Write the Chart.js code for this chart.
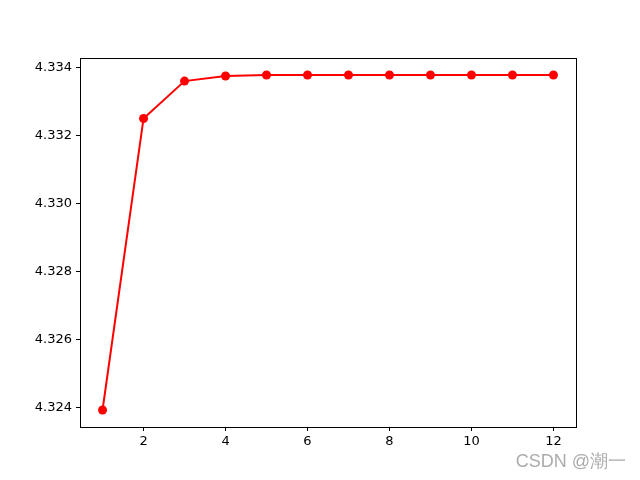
<!DOCTYPE html>
<html>
<head>
<meta charset="utf-8">
<script src="https://cdn.jsdelivr.net/npm/chart.js@4"></script>
<style>
  body { margin: 0; background: #fff; }
  #wrap { width: 640px; height: 480px; }
</style>
</head>
<body>
<div id="wrap"><canvas id="lineCanvas" width="640" height="480"></canvas></div>
<script>
const iterations = [1, 2, 3, 4, 5, 6, 7, 8, 9, 10, 11, 12];
const values = [4.32392, 4.33250, 4.33360, 4.33375, 4.33378, 4.33378, 4.33378, 4.33378, 4.33378, 4.33378, 4.33378, 4.33378];
const xTicks = [2, 4, 6, 8, 10, 12];
const yTicks = [4.324, 4.326, 4.328, 4.330, 4.332, 4.334];

const boxPlugin = {
    id: "box",
    afterDraw(chart) {
        const ctx = chart.ctx;
        const a = chart.chartArea;
        ctx.save();
        ctx.strokeStyle = "#000";
        ctx.lineWidth = 1;
        ctx.strokeRect(Math.round(a.left) + 0.5, Math.round(a.top) + 0.5, Math.round(a.right - a.left), Math.round(a.bottom - a.top));
        ctx.font = "18px 'Liberation Sans', sans-serif";
        ctx.fillStyle = "rgba(150,150,150,0.8)";
        ctx.textAlign = "right";
        ctx.textBaseline = "middle";
        ctx.fillText("CSDN @潮一", 626, 462);
        ctx.restore();
    }
};

const lineCanvas = document.getElementById("lineCanvas");
const lineChart = new Chart(lineCanvas, {
    type: "line",
    data: {
        labels: iterations,
        datasets: [{
            data: iterations.map((x, i) => ({ x: x, y: values[i] })),
            borderColor: "#ff0000",
            backgroundColor: "#ff0000",
            borderWidth: 2,
            pointRadius: 4.5,
            pointHoverRadius: 4.5,
            pointBorderWidth: 0,
            tension: 0
        }]
    },
    options: {
        responsive: false,
        animation: false,
        layout: { padding: { left: 0, top: 58, right: 64, bottom: 0 } },
        plugins: { legend: { display: false }, tooltip: { enabled: false } },
        scales: {
            x: {
                type: "linear",
                min: 0.45,
                max: 12.55,
                afterBuildTicks: (s) => { s.ticks = xTicks.map(v => ({ value: v })); },
                afterFit: (s) => { s.height = 53; },
                grid: { drawOnChartArea: false, drawTicks: true, tickLength: 4, color: "#000" },
                border: { color: "#000", width: 1 },
                ticks: {
                    color: "#000",
                    padding: 3,
                    maxRotation: 0,
                    font: { family: "'DejaVu Sans'", size: 13 }
                }
            },
            y: {
                min: 4.32342,
                max: 4.33428,
                afterBuildTicks: (s) => { s.ticks = yTicks.map(v => ({ value: v })); },
                afterFit: (s) => { s.width = 80; },
                grid: { drawOnChartArea: false, drawTicks: true, tickLength: 4, color: "#000" },
                border: { color: "#000", width: 1 },
                ticks: {
                    color: "#000",
                    padding: 4,
                    font: { family: "'DejaVu Sans'", size: 13 },
                    callback: (v) => v.toFixed(3)
                }
            }
        }
    },
    plugins: [boxPlugin]
});
</script>
</body>
</html>
